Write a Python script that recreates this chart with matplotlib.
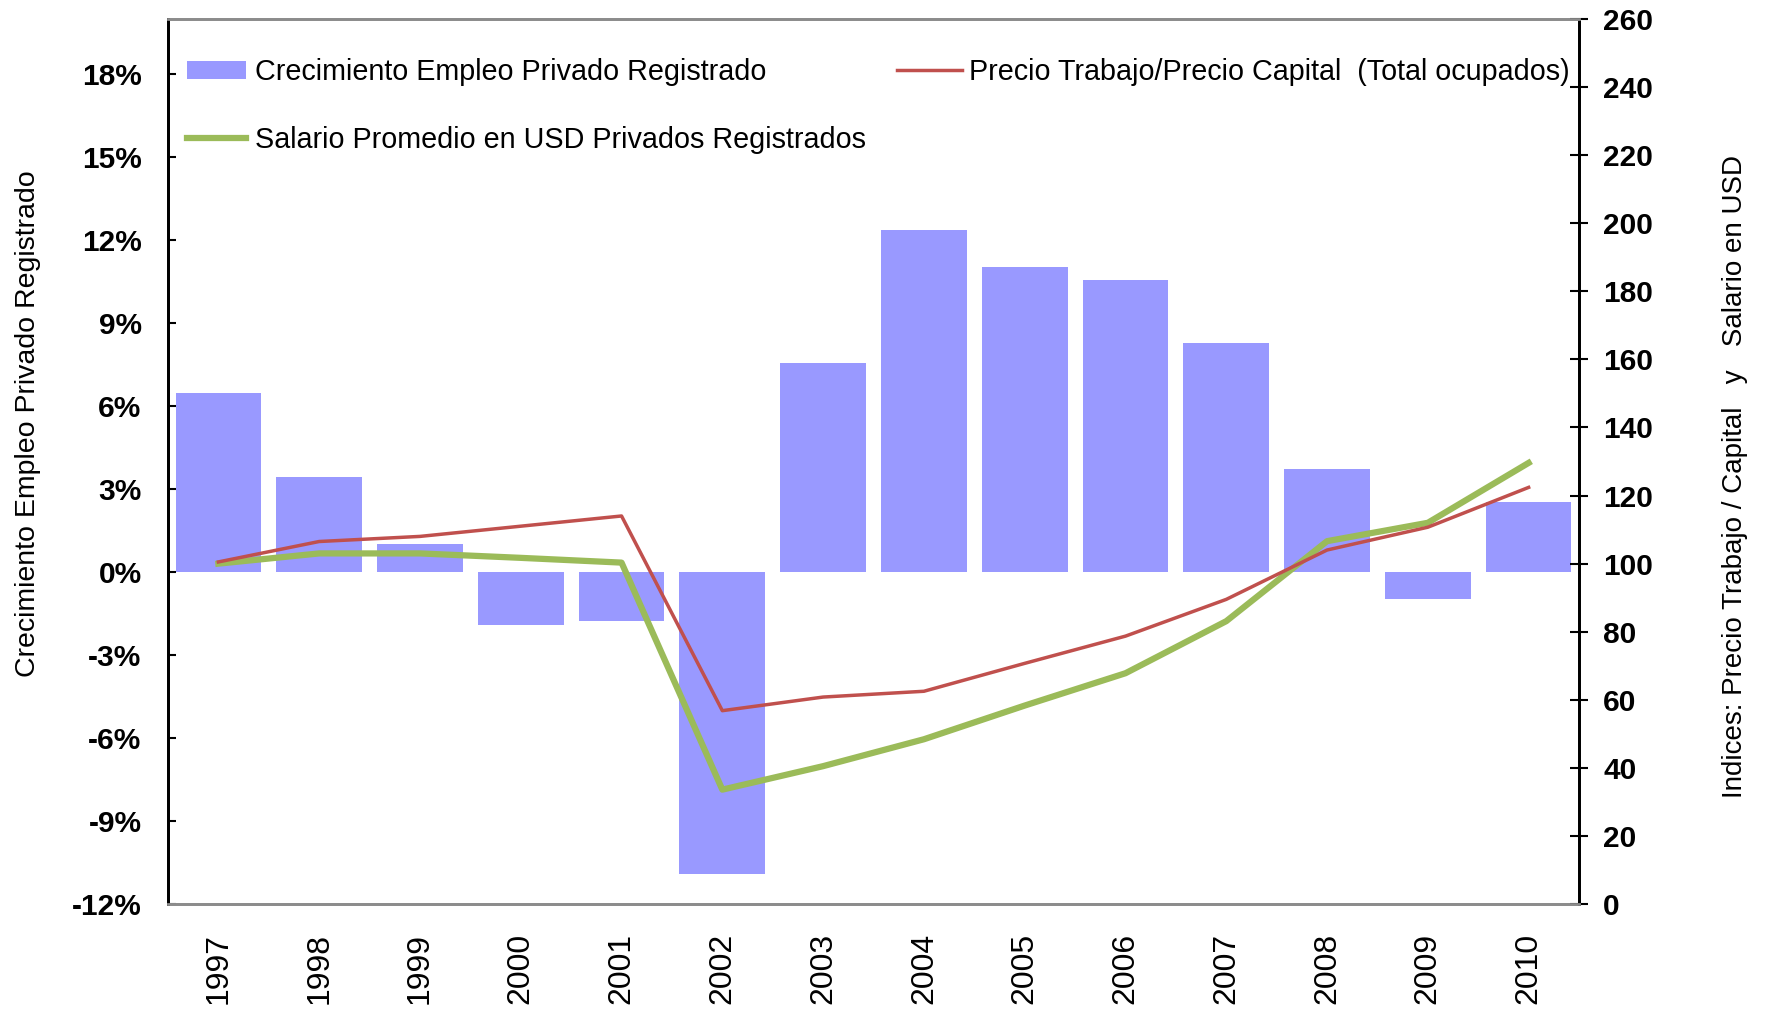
import matplotlib
matplotlib.use("Agg")
import matplotlib.pyplot as plt
from matplotlib.ticker import FuncFormatter
import numpy as np

# ---- data ----
years = ["1997", "1998", "1999", "2000", "2001", "2002", "2003",
         "2004", "2005", "2006", "2007", "2008", "2009", "2010"]
empleo_growth = [6.47, 3.44, 1.02, -1.92, -1.76, -10.9, 7.57,
                 12.36, 11.05, 10.56, 8.27, 3.72, -0.98, 2.54]
precio_trabajo_capital = [100.5, 106.5, 108.0, 111.0, 114.0, 56.8, 60.8,
                          62.5, 70.7, 78.7, 89.5, 104.0, 110.7, 122.4]
salario_usd = [100.0, 103.0, 103.0, 101.7, 100.3, 33.6, 40.5,
               48.4, 58.3, 67.8, 83.1, 106.6, 112.0, 129.6]

label_bar = "Crecimiento Empleo Privado Registrado"
label_red = "Precio Trabajo/Precio Capital  (Total ocupados)"
label_green = "Salario Promedio en USD Privados Registrados"
ylabel_left = "Crecimiento Empleo Privado Registrado"
ylabel_right = "Indices: Precio Trabajo / Capital   y   Salario en USD"

plt.rcParams['font.family'] = ['Liberation Sans', 'DejaVu Sans']

fig = plt.figure(figsize=(17.72, 10.13), dpi=100)
ax = fig.add_axes([0.0948, 0.1076, 0.7963, 0.8736])
ax2 = ax.twinx()

x = np.arange(len(years))
bar_col = "#9999FF"
red_col = "#C0504D"
green_col = "#9BBB59"

bars = ax.bar(x, empleo_growth, width=0.85, color=bar_col, zorder=1)
ax.set_xlim(-0.5, len(years) - 0.5)
ax.set_ylim(-12, 20)
ax.set_yticks(np.arange(-12, 19, 3))
ax.yaxis.set_major_formatter(FuncFormatter(lambda v, p: f"{int(round(v))}%"))

l_red, = ax2.plot(x, precio_trabajo_capital, color=red_col, lw=2.5, zorder=3)
l_green, = ax2.plot(x, salario_usd, color=green_col, lw=4.5, zorder=2)
ax2.set_ylim(0, 260)
ax2.set_yticks(np.arange(0, 261, 20))

ax.set_xticks(x)
ax.set_xticklabels(years, rotation=90, fontsize=23)
ax.tick_params(axis='x', length=0, pad=21)
ax.tick_params(axis='y', direction='in', length=6, width=1.5, pad=19,
               labelsize=21.5)
for t in ax.get_yticklabels():
    t.set_fontweight('bold')
ax2.tick_params(axis='y', direction='inout', length=13, width=1.5, pad=11,
                labelsize=21.5)
for t in ax2.get_yticklabels():
    t.set_fontweight('bold')

for a in (ax, ax2):
    a.spines['top'].set_color('#8c8c8c')
    a.spines['bottom'].set_color('#8c8c8c')
    a.spines['top'].set_linewidth(2)
    a.spines['bottom'].set_linewidth(2)
    a.spines['left'].set_color('black')
    a.spines['right'].set_color('black')
    a.spines['left'].set_linewidth(2)
    a.spines['right'].set_linewidth(2)

ax.set_ylabel(ylabel_left, fontsize=20.5)
ax.yaxis.set_label_coords(-0.090, 0.543)
ax2.set_ylabel(ylabel_right, fontsize=20, rotation=90)
ax2.yaxis.set_label_coords(1.101, 0.483)

leg1 = ax2.legend([bars, l_green], [label_bar, label_green],
                  loc='upper left', bbox_to_anchor=(0.0135, 0.956),
                  frameon=False, fontsize=20.7, handlelength=2.05,
                  handleheight=0.6, handletextpad=0.3, labelspacing=1.39,
                  borderpad=0, borderaxespad=0)
ax2.add_artist(leg1)
leg2 = ax2.legend([l_red], [label_red],
                  loc='upper left', bbox_to_anchor=(0.517, 0.956),
                  frameon=False, fontsize=20.7, handlelength=2.25,
                  handletextpad=0.25, borderpad=0, borderaxespad=0)

fig.savefig("out.png", dpi=100)
